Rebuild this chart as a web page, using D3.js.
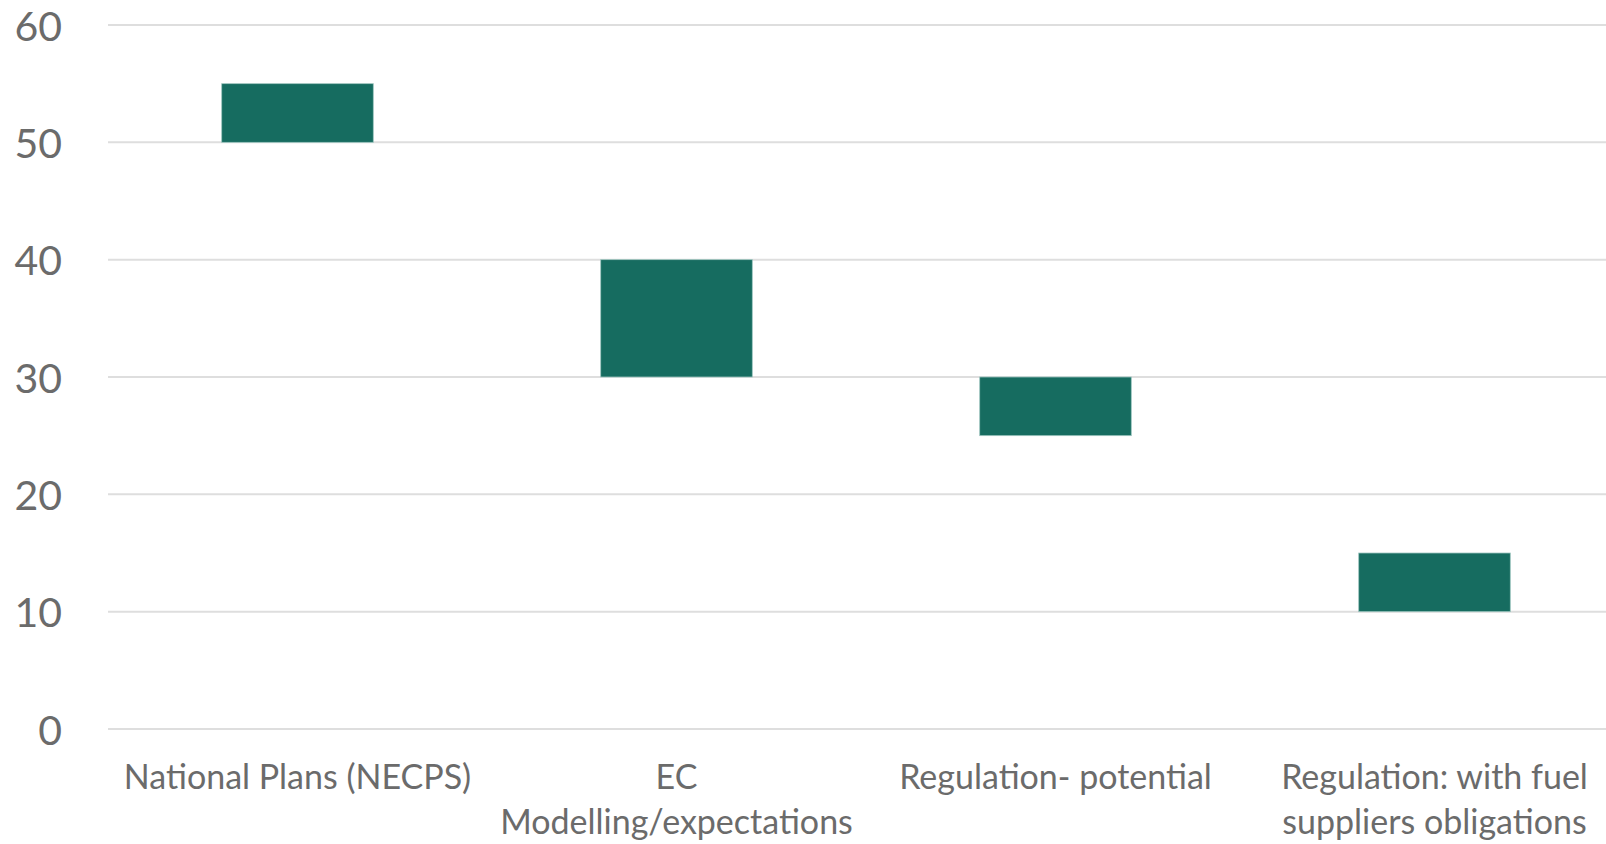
<!DOCTYPE html>
<html>
<head>
<meta charset="utf-8">
<script src="https://cdn.jsdelivr.net/npm/d3@7"></script>
<style>
  html, body { margin: 0; padding: 0; background: #ffffff; overflow: hidden; }
  svg { display: block; }
</style>
</head>
<body>
<svg id="chart" width="1606" height="844"></svg>
<script>
// Floating ranges per scenario (low and high ends of each bar)
const categories = [
  "National Plans (NECPS)",
  "EC Modelling/expectations",
  "Regulation- potential",
  "Regulation: with fuel suppliers obligations"
];
const lowValues  = [50, 30, 25, 10];
const highValues = [55, 40, 30, 15];
const yTicks = [0, 10, 20, 30, 40, 50, 60];

const W = 1606, H = 844;
const margin = { left: 108, top: 25, bottom: 115 };
const plotRight = 1624;   // plot area runs past the right edge of the frame

const svg = d3.select("#chart");

const x = d3.scaleBand()
  .domain(categories)
  .range([margin.left, plotRight])
  .paddingInner(0.6)
  .paddingOuter(0.3);

const y = d3.scaleLinear()
  .domain([0, 60])
  .range([H - margin.bottom, margin.top]);

const textColor = "#6b6b6b";
const font = "Lato, 'Open Sans', sans-serif";

// Horizontal gridlines
svg.append("g")
  .selectAll("line")
  .data(yTicks)
  .join("line")
  .attr("x1", margin.left)
  .attr("x2", plotRight)
  .attr("y1", d => y(d))
  .attr("y2", d => y(d))
  .attr("stroke", "#dedede")
  .attr("stroke-width", 2);

// Y axis labels
const yAxis = d3.axisLeft(y).tickValues(yTicks).tickSize(0).tickPadding(0);
const gy = svg.append("g")
  .attr("transform", `translate(${margin.left - 46},0)`)
  .call(yAxis);
gy.select(".domain").remove();
gy.selectAll("text")
  .attr("fill", textColor)
  .attr("font-family", font)
  .attr("font-size", 41)
  .attr("dy", "0.37em");

// Bars
svg.append("g")
  .selectAll("rect")
  .data(categories)
  .join("rect")
  .attr("x", d => x(d))
  .attr("width", x.bandwidth())
  .attr("y", (d, i) => y(highValues[i]))
  .attr("height", (d, i) => y(lowValues[i]) - y(highValues[i]))
  .attr("fill", "#166c60")
  .attr("stroke", "#9fc6c0")
  .attr("stroke-width", 0.8);

// X axis category labels, wrapped to the slot width
const slot = x.step();
const gx = svg.append("g")
  .attr("transform", `translate(0,${y(0)})`)
  .call(d3.axisBottom(x).tickSize(0).tickPadding(0));
gx.select(".domain").remove();
gx.selectAll("text")
  .attr("fill", textColor)
  .attr("font-family", font)
  .attr("font-size", 34)
  .attr("y", 0)
  .attr("dy", 0)
  .each(function(d) {
    const t = d3.select(this);
    const words = d.split(" ");
    t.text(null);
    let lines = [];
    let line = [];
    const probe = t.append("tspan");
    words.forEach(w => {
      line.push(w);
      probe.text(line.join(" "));
      if (probe.node().getComputedTextLength() > slot - 10 && line.length > 1) {
        line.pop();
        lines.push(line.join(" "));
        line = [w];
      }
    });
    lines.push(line.join(" "));
    probe.remove();
    lines.forEach((l, i) => {
      t.append("tspan")
        .attr("x", 0)
        .attr("y", 60 + i * 45)
        .text(l);
    });
  });
</script>
</body>
</html>
